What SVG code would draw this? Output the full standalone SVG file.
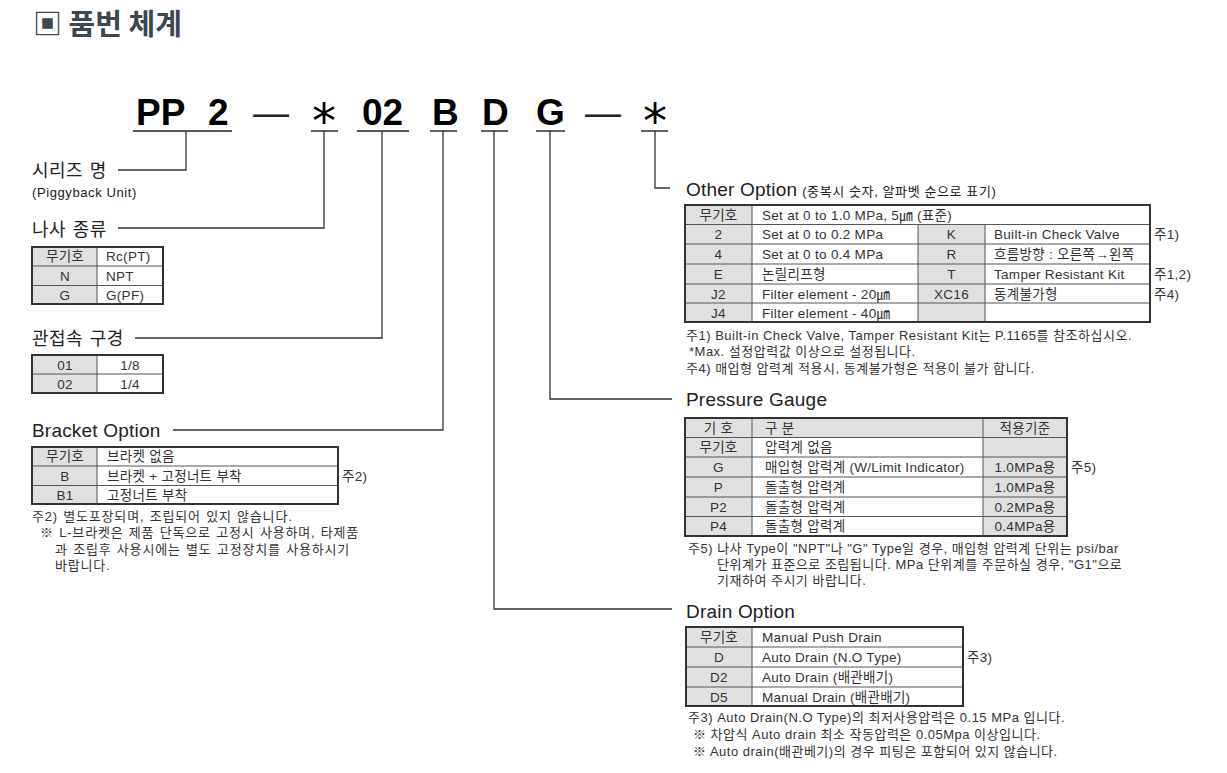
<svg xmlns="http://www.w3.org/2000/svg" width="1227" height="773" viewBox="0 0 1227 773">
<style>
text { font-family: "Liberation Sans", "Noto Sans CJK KR", sans-serif; fill: #222; }
.ttl { font-family: "Noto Sans CJK KR", sans-serif; font-size: 29px; font-weight: bold; fill: #3b4751; }
.code { font-size: 37px; font-weight: bold; fill: #000; }
.ast { font-family: "DejaVu Sans", sans-serif; font-size: 48px; fill: #000; }
.dash { font-size: 36px; fill: #222; }
.lbl { font-family: "Noto Sans CJK KR", sans-serif; font-size: 18px; letter-spacing: 0.5px; word-spacing: 2px; }
.sec { font-size: 19px; letter-spacing: 0.2px; }
.sub { font-size: 13px; letter-spacing: 0.6px; }
.t { font-size: 13.5px; fill: #333; letter-spacing: 0.3px; }
.c { text-anchor: middle; }
.n { font-size: 13px; fill: #333; letter-spacing: 0.5px; }
.nl { letter-spacing: 0.8px; word-spacing: 1px; }
.ul { stroke: #222; stroke-width: 1.4; }
.conn { stroke: #333; stroke-width: 1.3; fill: none; }
.bg { fill: #fff; }
.gr { fill: #e0e0e0; }
.in { stroke: #555; stroke-width: 1; fill: none; }
.out { stroke: #333; stroke-width: 2; fill: none; }
</style>

<g id="title">
  <text x="33" y="35" class="ttl">▣ 품번 체계</text>
</g>

<g id="code">
  <text x="136" y="125" class="code">PP</text>
  <text x="208" y="125" class="code">2</text>
  <text x="253" y="125" class="dash">—</text>
  <text x="312" y="138" class="ast">*</text>
  <text x="362" y="125" class="code">02</text>
  <text x="432" y="125" class="code">B</text>
  <text x="482" y="125" class="code">D</text>
  <text x="536" y="125" class="code">G</text>
  <text x="585" y="125" class="dash">—</text>
  <text x="643" y="138" class="ast">*</text>
  <line x1="133" y1="131" x2="232" y2="131" class="ul"/>
  <line x1="311" y1="131" x2="338" y2="131" class="ul"/>
  <line x1="357" y1="131" x2="409" y2="131" class="ul"/>
  <line x1="430" y1="131" x2="457" y2="131" class="ul"/>
  <line x1="481" y1="131" x2="508" y2="131" class="ul"/>
  <line x1="536" y1="131" x2="565" y2="131" class="ul"/>
  <line x1="641" y1="131" x2="668" y2="131" class="ul"/>
</g>

<g id="connectors">
  <path class="conn" d="M186,131 V170 H118"/>
  <path class="conn" d="M324,131 V228 H118"/>
  <path class="conn" d="M382,131 V338 H135"/>
  <path class="conn" d="M443,131 V430 H173"/>
  <path class="conn" d="M494,131 V609 H672"/>
  <path class="conn" d="M550,131 V399 H672"/>
  <path class="conn" d="M655,131 V188 H670"/>
</g>

<g id="series">
  <text x="32" y="177" class="lbl">시리즈 명</text>
  <text x="32" y="197" class="sub">(Piggyback Unit)</text>
</g>

<g id="thread">
  <text x="32" y="236" class="lbl">나사 종류</text>
  <rect x="32" y="247" width="131" height="57" class="bg"/>
  <rect x="32" y="247" width="65" height="57" class="gr"/>
  <path class="in" d="M97,247 V304 M32,266 H163 M32,285.5 H163"/>
  <rect x="32" y="247" width="131" height="57" class="out"/>
  <text x="65" y="261" class="t c">무기호</text><text x="106" y="261" class="t">Rc(PT)</text>
  <text x="65" y="281" class="t c">N</text><text x="106" y="281" class="t">NPT</text>
  <text x="65" y="300" class="t c">G</text><text x="106" y="300" class="t">G(PF)</text>
</g>

<g id="port">
  <text x="32" y="345" class="lbl">관접속 구경</text>
  <rect x="32" y="355" width="131" height="38" class="bg"/>
  <rect x="32" y="355" width="65" height="38" class="gr"/>
  <path class="in" d="M97,355 V393 M32,374 H163"/>
  <rect x="32" y="355" width="131" height="38" class="out"/>
  <text x="65" y="369.5" class="t c">01</text><text x="130" y="369.5" class="t c">1/8</text>
  <text x="65" y="388.5" class="t c">02</text><text x="130" y="388.5" class="t c">1/4</text>
</g>

<g id="bracket">
  <text x="32" y="437" class="sec">Bracket Option</text>
  <rect x="32" y="447" width="306" height="57" class="bg"/>
  <rect x="32" y="447" width="65" height="57" class="gr"/>
  <path class="in" d="M97,447 V504 M32,466 H338 M32,485.5 H338"/>
  <rect x="32" y="447" width="306" height="57" class="out"/>
  <text x="65" y="461" class="t c">무기호</text><text x="107" y="461" class="t">브라켓 없음</text>
  <text x="65" y="481" class="t c">B</text><text x="107" y="481" class="t">브라켓 + 고정너트 부착</text>
  <text x="65" y="500" class="t c">B1</text><text x="107" y="500" class="t">고정너트 부착</text>
  <text x="342" y="481" class="t">주2)</text>
  <text x="32" y="521" class="n nl">주2) 별도포장되며, 조립되어 있지 않습니다.</text>
  <text x="40" y="537" class="n nl">※ L-브라켓은 제품 단독으로 고정시 사용하며, 타제품</text>
  <text x="55" y="554" class="n nl">과 조립후 사용시에는 별도 고정장치를 사용하시기</text>
  <text x="55" y="570" class="n nl">바랍니다.</text>
</g>

<g id="other">
  <text x="686" y="196"><tspan class="sec">Other Option</tspan><tspan class="sub" dx="5">(중복시 숫자, 알파벳 순으로 표기)</tspan></text>
  <rect x="685" y="205" width="465" height="117" class="bg"/>
  <rect x="685" y="205" width="67" height="117" class="gr"/>
  <rect x="918" y="224.5" width="67" height="97.5" class="gr"/>
  <path class="in" d="M752,205 V322 M918,224.5 V322 M985,224.5 V322 M685,224.5 H1150 M685,244 H1150 M685,264 H1150 M685,284 H1150 M685,303 H1150"/>
  <rect x="685" y="205" width="465" height="117" class="out"/>
  <text x="718.5" y="219.5" class="t c">무기호</text><text x="762" y="219.5" class="t">Set at 0 to 1.0 MPa, 5㎛ (표준)</text>
  <text x="718.5" y="239" class="t c">2</text><text x="762" y="239" class="t">Set at 0 to 0.2 MPa</text><text x="951.5" y="239" class="t c">K</text><text x="994" y="239" class="t">Built-in Check Valve</text>
  <text x="718.5" y="259" class="t c">4</text><text x="762" y="259" class="t">Set at 0 to 0.4 MPa</text><text x="951.5" y="259" class="t c">R</text><text x="994" y="259" class="t">흐름방향 : 오른쪽→왼쪽</text>
  <text x="718.5" y="279" class="t c">E</text><text x="762" y="279" class="t">논릴리프형</text><text x="951.5" y="279" class="t c">T</text><text x="994" y="279" class="t">Tamper Resistant Kit</text>
  <text x="718.5" y="298.5" class="t c">J2</text><text x="762" y="298.5" class="t">Filter element - 20㎛</text><text x="951.5" y="298.5" class="t c">XC16</text><text x="994" y="298.5" class="t">동계불가형</text>
  <text x="718.5" y="317.5" class="t c">J4</text><text x="762" y="317.5" class="t">Filter element - 40㎛</text>
  <text x="1154" y="239" class="t">주1)</text>
  <text x="1154" y="279" class="t">주1,2)</text>
  <text x="1154" y="298.5" class="t">주4)</text>
  <text x="686" y="340" class="n">주1) Built-in Check Valve, Tamper Resistant Kit는 P.1165를 참조하십시오.</text>
  <text x="689" y="356" class="n">*Max. 설정압력값 이상으로 설정됩니다.</text>
  <text x="686" y="373" class="n">주4) 매입형 압력계 적용시, 동계불가형은 적용이 불가 합니다.</text>
</g>

<g id="gauge">
  <text x="686" y="406" class="sec">Pressure Gauge</text>
  <rect x="685" y="418" width="382" height="118" class="bg"/>
  <rect x="685" y="418" width="382" height="19.5" class="gr"/>
  <rect x="685" y="418" width="67" height="118" class="gr"/>
  <rect x="983" y="418" width="84" height="118" class="gr"/>
  <path class="in" d="M752,418 V536 M983,418 V536 M685,437.5 H1067 M685,457 H1067 M685,477 H1067 M685,497 H1067 M685,516.5 H1067"/>
  <rect x="685" y="418" width="382" height="118" class="out"/>
  <text x="718.5" y="433" class="t c">기 호</text><text x="765" y="433" class="t">구 분</text><text x="1025" y="433" class="t c">적용기준</text>
  <text x="718.5" y="452" class="t c">무기호</text><text x="765" y="452" class="t">압력계 없음</text>
  <text x="718.5" y="472" class="t c">G</text><text x="765" y="472" class="t">매입형 압력계 (W/Limit Indicator)</text><text x="1025" y="472" class="t c">1.0MPa용</text>
  <text x="718.5" y="492" class="t c">P</text><text x="765" y="492" class="t">돌출형 압력계</text><text x="1025" y="492" class="t c">1.0MPa용</text>
  <text x="718.5" y="511.5" class="t c">P2</text><text x="765" y="511.5" class="t">돌출형 압력계</text><text x="1025" y="511.5" class="t c">0.2MPa용</text>
  <text x="718.5" y="531" class="t c">P4</text><text x="765" y="531" class="t">돌출형 압력계</text><text x="1025" y="531" class="t c">0.4MPa용</text>
  <text x="1071" y="472" class="t">주5)</text>
  <text x="688" y="553" class="n">주5) 나사 Type이 "NPT"나 "G" Type일 경우, 매입형 압력계 단위는 psi/bar</text>
  <text x="717" y="569" class="n">단위계가 표준으로 조립됩니다. MPa 단위계를 주문하실 경우, "G1"으로</text>
  <text x="717" y="585" class="n">기재하여 주시기 바랍니다.</text>
</g>

<g id="drain">
  <text x="686" y="618" class="sec">Drain Option</text>
  <rect x="686" y="627" width="277" height="79" class="bg"/>
  <rect x="686" y="627" width="66" height="79" class="gr"/>
  <path class="in" d="M752,627 V706 M686,647 H963 M686,667 H963 M686,687 H963"/>
  <rect x="686" y="627" width="277" height="79" class="out"/>
  <text x="719" y="642" class="t c">무기호</text><text x="762" y="642" class="t">Manual Push Drain</text>
  <text x="719" y="662" class="t c">D</text><text x="762" y="662" class="t">Auto Drain (N.O Type)</text>
  <text x="719" y="682" class="t c">D2</text><text x="762" y="682" class="t">Auto Drain (배관배기)</text>
  <text x="719" y="701.5" class="t c">D5</text><text x="762" y="701.5" class="t">Manual Drain (배관배기)</text>
  <text x="967" y="662" class="t">주3)</text>
  <text x="688" y="722" class="n">주3) Auto Drain(N.O Type)의 최저사용압력은 0.15 MPa 입니다.</text>
  <text x="693" y="739" class="n">※ 차압식 Auto drain 최소 작동압력은 0.05Mpa 이상입니다.</text>
  <text x="693" y="756" class="n">※ Auto drain(배관베기)의 경우 피팅은 포함되어 있지 않습니다.</text>
</g>
</svg>
